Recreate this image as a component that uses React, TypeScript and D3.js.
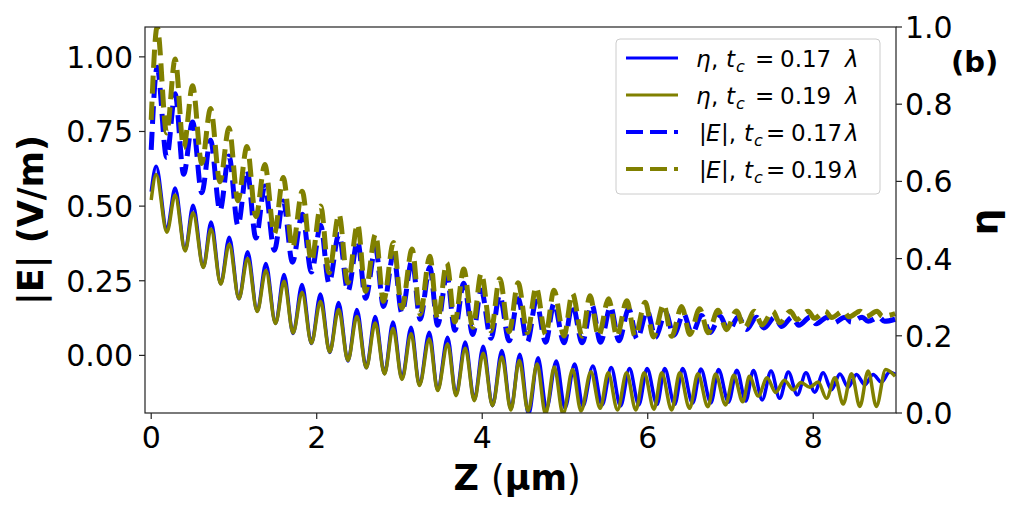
import React from "react";
import * as d3 from "d3";

// ---------- data ----------
// eta, tc = 0.17 lambda (solid blue, right axis)
const etaA_start: [number, number] = [0, 0.573];
const etaA_peakZ = [0.060, 0.289, 0.506, 0.723, 0.943, 1.165, 1.386, 1.606, 1.823, 2.045, 2.265, 2.486, 2.707, 2.922, 3.141, 3.361, 3.582, 3.795, 4.012, 4.237, 4.454, 4.675, 4.895, 5.117, 5.337, 5.558, 5.780, 5.992, 6.205, 6.422, 6.642, 6.855, 7.076, 7.277, 7.490, 7.699, 7.912, 8.120, 8.322, 8.522, 8.723, 8.924];
const etaA_peakV = [0.639, 0.583, 0.538, 0.495, 0.455, 0.418, 0.387, 0.359, 0.333, 0.308, 0.286, 0.268, 0.250, 0.236, 0.222, 0.209, 0.196, 0.184, 0.173, 0.162, 0.152, 0.143, 0.135, 0.127, 0.122, 0.118, 0.115, 0.115, 0.115, 0.115, 0.114, 0.113, 0.111, 0.110, 0.109, 0.106, 0.104, 0.104, 0.101, 0.100, 0.100, 0.106];
const etaA_troughZ = [0.189, 0.410, 0.630, 0.840, 1.060, 1.281, 1.502, 1.714, 1.936, 2.157, 2.377, 2.599, 2.819, 3.030, 3.241, 3.461, 3.683, 3.904, 4.124, 4.346, 4.560, 4.777, 5.000, 5.217, 5.449, 5.671, 5.892, 6.112, 6.325, 6.542, 6.763, 6.976, 7.184, 7.383, 7.594, 7.807, 8.018, 8.220, 8.422, 8.623, 8.823];
const etaA_troughV = [0.475, 0.422, 0.378, 0.335, 0.296, 0.264, 0.232, 0.206, 0.180, 0.157, 0.135, 0.117, 0.102, 0.089, 0.073, 0.060, 0.047, 0.034, 0.019, 0.011, -0.004, 0.011, 0.013, 0.018, 0.021, 0.018, 0.021, 0.022, 0.022, 0.025, 0.026, 0.028, 0.031, 0.034, 0.038, 0.047, 0.054, 0.060, 0.067, 0.073, 0.080];
const etaA_end: [number, number] = [8.99, 0.100];

// eta, tc = 0.19 lambda (solid olive, right axis)
const etaB_start: [number, number] = [0, 0.552];
const etaB_peakZ = [0.060, 0.289, 0.506, 0.723, 0.943, 1.165, 1.386, 1.606, 1.823, 2.045, 2.265, 2.486, 2.707, 2.922, 3.141, 3.361, 3.582, 3.795, 4.012, 4.237, 4.448, 4.663, 4.871, 5.093, 5.313, 5.522, 5.744, 5.956, 6.169, 6.386, 6.606, 6.819, 7.040, 7.229, 7.442, 7.651, 7.852, 8.060, 8.262, 8.462, 8.663, 8.875];
const etaB_peakV = [0.618, 0.565, 0.519, 0.477, 0.437, 0.400, 0.369, 0.341, 0.312, 0.289, 0.268, 0.250, 0.233, 0.219, 0.205, 0.192, 0.179, 0.168, 0.155, 0.145, 0.136, 0.127, 0.119, 0.113, 0.107, 0.104, 0.104, 0.104, 0.104, 0.104, 0.102, 0.101, 0.098, 0.095, 0.091, 0.085, 0.079, 0.080, 0.091, 0.102, 0.109, 0.113];
const etaB_troughZ = [0.189, 0.410, 0.630, 0.840, 1.060, 1.281, 1.502, 1.714, 1.936, 2.157, 2.377, 2.599, 2.819, 3.030, 3.241, 3.461, 3.683, 3.904, 4.124, 4.346, 4.554, 4.765, 4.976, 5.193, 5.425, 5.635, 5.856, 6.076, 6.289, 6.506, 6.727, 6.940, 7.148, 7.335, 7.546, 7.759, 7.958, 8.160, 8.362, 8.563, 8.763];
const etaB_troughV = [0.468, 0.420, 0.377, 0.334, 0.296, 0.263, 0.232, 0.207, 0.181, 0.158, 0.136, 0.117, 0.101, 0.087, 0.071, 0.058, 0.045, 0.032, 0.019, 0.008, 0.005, -0.003, -0.003, 0.005, 0.012, 0.008, 0.008, 0.010, 0.008, 0.012, 0.016, 0.021, 0.029, 0.044, 0.053, 0.060, 0.067, 0.038, 0.023, 0.017, 0.017];
const etaB_end: [number, number] = [8.99, 0.095];

// |E|, tc = 0.17 lambda (dashed blue, left axis)
const eA_start: [number, number] = [0, 0.688];
const eA_peakZ = [0.072, 0.289, 0.500, 0.717, 0.940, 1.157, 1.373, 1.596, 1.825, 2.048, 2.269, 2.494, 2.711, 2.928, 3.153, 3.367, 3.572, 3.777, 3.988, 4.211, 4.434, 4.651, 4.867, 5.090, 5.325, 5.551, 5.771, 5.994, 6.217, 6.434, 6.651, 6.873, 7.096, 7.313, 7.536, 7.747, 7.964, 8.169, 8.386, 8.590, 8.795];
const eA_peakV = [0.965, 0.876, 0.782, 0.721, 0.668, 0.621, 0.567, 0.517, 0.473, 0.436, 0.406, 0.383, 0.359, 0.339, 0.319, 0.295, 0.268, 0.242, 0.218, 0.201, 0.190, 0.181, 0.174, 0.171, 0.169, 0.163, 0.156, 0.149, 0.144, 0.139, 0.134, 0.131, 0.129, 0.128, 0.128, 0.128, 0.128, 0.128, 0.128, 0.128, 0.128];
const eA_troughZ = [0.187, 0.392, 0.611, 0.831, 1.048, 1.265, 1.488, 1.707, 1.936, 2.148, 2.377, 2.590, 2.807, 3.028, 3.249, 3.461, 3.669, 3.886, 4.105, 4.325, 4.546, 4.767, 4.988, 5.208, 5.430, 5.651, 5.871, 6.093, 6.313, 6.534, 6.755, 6.976, 7.193, 7.404, 7.618, 7.825, 8.036, 8.247, 8.458, 8.663, 8.861];
const eA_troughV = [0.663, 0.607, 0.545, 0.485, 0.435, 0.393, 0.352, 0.312, 0.279, 0.242, 0.215, 0.191, 0.164, 0.143, 0.121, 0.101, 0.084, 0.070, 0.057, 0.049, 0.045, 0.044, 0.042, 0.042, 0.044, 0.049, 0.055, 0.060, 0.067, 0.072, 0.077, 0.082, 0.087, 0.092, 0.097, 0.101, 0.106, 0.109, 0.112, 0.114, 0.114];
const eA_end: [number, number] = [8.99, 0.121];

// |E|, tc = 0.19 lambda (dashed olive, left axis)
const eB_start: [number, number] = [0, 0.789];
const eB_peakZ = [0.072, 0.289, 0.500, 0.717, 0.940, 1.157, 1.373, 1.596, 1.825, 2.048, 2.269, 2.494, 2.711, 2.928, 3.153, 3.367, 3.572, 3.777, 3.988, 4.211, 4.434, 4.651, 4.867, 5.090, 5.301, 5.527, 5.747, 5.970, 6.193, 6.410, 6.627, 6.849, 7.072, 7.289, 7.512, 7.723, 7.940, 8.145, 8.362, 8.566, 8.771];
const eB_peakV = [1.100, 0.993, 0.903, 0.827, 0.762, 0.700, 0.639, 0.596, 0.550, 0.500, 0.473, 0.440, 0.406, 0.378, 0.356, 0.332, 0.310, 0.289, 0.275, 0.257, 0.243, 0.228, 0.218, 0.208, 0.200, 0.190, 0.183, 0.178, 0.171, 0.164, 0.156, 0.151, 0.149, 0.148, 0.148, 0.148, 0.148, 0.148, 0.148, 0.148, 0.148];
const eB_troughZ = [0.187, 0.392, 0.611, 0.831, 1.048, 1.265, 1.488, 1.707, 1.936, 2.148, 2.377, 2.590, 2.807, 3.028, 3.249, 3.461, 3.669, 3.886, 4.105, 4.325, 4.546, 4.767, 4.988, 5.208, 5.406, 5.627, 5.847, 6.069, 6.289, 6.510, 6.731, 6.952, 7.169, 7.380, 7.594, 7.801, 8.012, 8.223, 8.434, 8.639, 8.837];
const eB_troughV = [0.745, 0.696, 0.643, 0.582, 0.518, 0.465, 0.408, 0.361, 0.315, 0.277, 0.243, 0.215, 0.181, 0.159, 0.138, 0.121, 0.112, 0.094, 0.082, 0.079, 0.076, 0.070, 0.065, 0.064, 0.065, 0.064, 0.064, 0.062, 0.064, 0.070, 0.076, 0.086, 0.092, 0.102, 0.109, 0.120, 0.124, 0.127, 0.129, 0.130, 0.131];
const eB_end: [number, number] = [8.99, 0.140];

const xTicks = [0, 2, 4, 6, 8];
const xTickLabels = ["0", "2", "4", "6", "8"];
const leftTicks = [0, 0.25, 0.5, 0.75, 1.0];
const leftTickLabels = ["0.00", "0.25", "0.50", "0.75", "1.00"];
const rightTicks = [0, 0.2, 0.4, 0.6, 0.8, 1.0];
const rightTickLabels = ["0.0", "0.2", "0.4", "0.6", "0.8", "1.0"];
const legendTcA = "0.17";
const legendTcB = "0.19";

const BLUE = "#0000ff";
const OLIVE = "#808000";
const FONT = "DejaVu Sans";

type Pt = [number, number];
function merge(start: Pt, pz: number[], pv: number[], tz: number[], tv: number[], end: Pt): Pt[] {
  const pts: Pt[] = [start];
  pz.forEach((z, i) => pts.push([z, pv[i]]));
  tz.forEach((z, i) => pts.push([z, tv[i]]));
  pts.push(end);
  return d3.sort(pts, (d) => d[0]);
}

export default function App() {
  const W = 1023, H = 512;
  const L = 145, R = 896, T = 27, B = 413;
  const x = d3.scaleLinear().domain([-0.075, 9.0]).range([L, R]);
  const yL = d3.scaleLinear().domain([-0.193, 1.10]).range([B, T]);
  const yR = d3.scaleLinear().domain([0, 1]).range([B, T]);

  const lineR = d3.line<Pt>().x((d) => x(d[0])).y((d) => yR(d[1])).curve(d3.curveMonotoneX);
  const lineL = d3.line<Pt>().x((d) => x(d[0])).y((d) => yL(d[1])).curve(d3.curveMonotoneX);

  const sA = merge(etaA_start, etaA_peakZ, etaA_peakV, etaA_troughZ, etaA_troughV, etaA_end);
  const sB = merge(etaB_start, etaB_peakZ, etaB_peakV, etaB_troughZ, etaB_troughV, etaB_end);
  const dA = merge(eA_start, eA_peakZ, eA_peakV, eA_troughZ, eA_troughV, eA_end);
  const dB = merge(eB_start, eB_peakZ, eB_peakV, eB_troughZ, eB_troughV, eB_end);

  const spine = "#222";
  const legendRows = [
    { y: 58, color: BLUE, dashed: false, kind: "eta", tc: legendTcA },
    { y: 95, color: OLIVE, dashed: false, kind: "eta", tc: legendTcB },
    { y: 132, color: BLUE, dashed: true, kind: "E", tc: legendTcA },
    { y: 169, color: OLIVE, dashed: true, kind: "E", tc: legendTcB },
  ];

  return (
    <svg width={W} height={H} style={{ position: "absolute", left: 0, top: 0, background: "#fff" }} fontFamily={FONT}>
      <defs>
        <clipPath id="plot">
          <rect x={L} y={T} width={R - L} height={B - T} />
        </clipPath>
      </defs>
      <rect x={0} y={0} width={W} height={H} fill="#fff" />
      <g clipPath="url(#plot)" fill="none">
        <path d={lineR(sA) || ""} stroke={BLUE} strokeWidth={3.5} />
        <path d={lineR(sB) || ""} stroke={OLIVE} strokeWidth={3.5} />
        <path d={lineL(dA) || ""} stroke={BLUE} strokeWidth={5} strokeDasharray="18,8" />
        <path d={lineL(dB) || ""} stroke={OLIVE} strokeWidth={5} strokeDasharray="18,8" />
      </g>
      {/* spines */}
      <rect x={L} y={T} width={R - L} height={B - T} fill="none" stroke={spine} strokeWidth={1.2} />
      {/* x ticks */}
      {xTicks.map((t, i) => (
        <g key={"x" + i}>
          <line x1={x(t)} x2={x(t)} y1={B} y2={B + 6} stroke={spine} strokeWidth={1.2} />
          <text x={x(t)} y={448} fontSize={30} textAnchor="middle">{xTickLabels[i]}</text>
        </g>
      ))}
      {/* left ticks */}
      {leftTicks.map((t, i) => (
        <g key={"l" + i}>
          <line x1={L - 6} x2={L} y1={yL(t)} y2={yL(t)} stroke={spine} strokeWidth={1.2} />
          <text x={L - 12} y={yL(t) + 11} fontSize={30} textAnchor="end">{leftTickLabels[i]}</text>
        </g>
      ))}
      {/* right ticks */}
      {rightTicks.map((t, i) => (
        <g key={"r" + i}>
          <line x1={R} x2={R + 6} y1={yR(t)} y2={yR(t)} stroke={spine} strokeWidth={1.2} />
          <text x={R + 9} y={yR(t) + 11} fontSize={30} textAnchor="start">{rightTickLabels[i]}</text>
        </g>
      ))}
      {/* axis labels */}
      <text x={517} y={490} fontSize={35} textAnchor="middle">
        <tspan fontWeight="bold">Z </tspan>
        <tspan>(</tspan>
        <tspan fontWeight="bold">μm</tspan>
        <tspan>)</tspan>
      </text>
      <text transform="translate(43,220) rotate(-90)" fontSize={35} fontWeight="bold" textAnchor="middle">|E| (V/m)</text>
      <text transform="translate(997,222) rotate(-90)" fontSize={38} fontWeight="bold" textAnchor="middle">η</text>
      <text x={951} y={72} fontSize={29} fontWeight="bold">(b)</text>
      {/* legend */}
      <rect x={616} y={39} width={264} height={155} rx={4} fill="#fff" fillOpacity={0.8} stroke="#cccccc" strokeWidth={1} />
      {legendRows.map((r, i) => (
        <g key={"lg" + i}>
          <line x1={626} x2={678} y1={r.y} y2={r.y} stroke={r.color} strokeWidth={r.dashed ? 4 : 3} strokeDasharray={r.dashed ? "17,7" : undefined} />
          {r.kind === "eta" ? (
            <text y={r.y + 9} fontSize={23}>
              <tspan x={696} fontStyle="italic">η</tspan>
              <tspan x={711}>,</tspan>
              <tspan x={726} fontStyle="italic">t</tspan>
              <tspan x={736} dy={5} fontSize={16} fontStyle="italic">c</tspan>
              <tspan x={755} dy={-5}>=</tspan>
              <tspan x={780}>{r.tc}</tspan>
              <tspan x={845} fontStyle="italic">λ</tspan>
            </text>
          ) : (
            <text y={r.y + 9} fontSize={23}>
              <tspan x={699}>|</tspan>
              <tspan x={706} fontStyle="italic">E</tspan>
              <tspan x={721}>|,</tspan>
              <tspan x={744} fontStyle="italic">t</tspan>
              <tspan x={754} dy={5} fontSize={16} fontStyle="italic">c</tspan>
              <tspan x={766} dy={-5}>=</tspan>
              <tspan x={791}>{r.tc}</tspan>
              <tspan x={845} fontStyle="italic">λ</tspan>
            </text>
          )}
        </g>
      ))}
    </svg>
  );
}
